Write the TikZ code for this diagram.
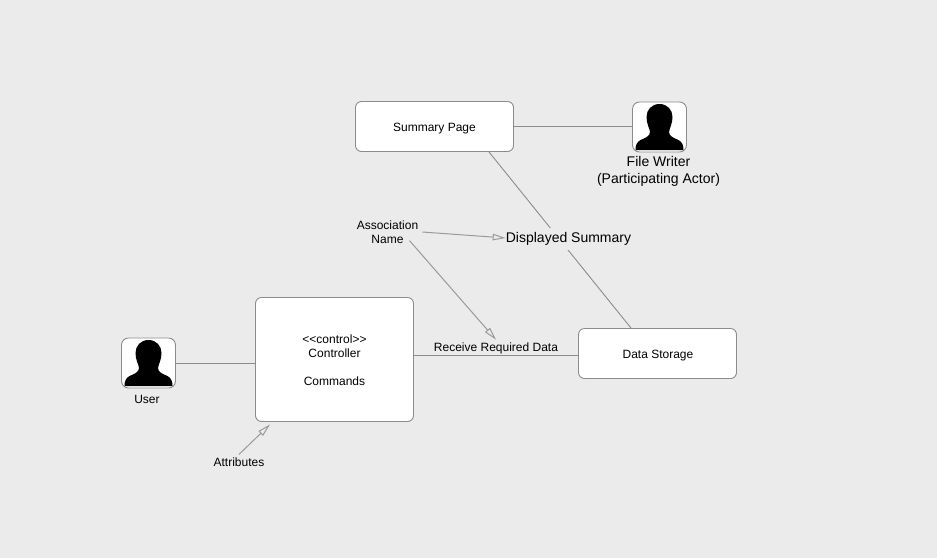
\documentclass[tikz,border=0pt]{standalone}
\usepackage{fontspec}
\setmainfont{Liberation Sans}
\usetikzlibrary{arrows.meta}
\definecolor{pagebg}{HTML}{EBEBEB}
\definecolor{edgegray}{HTML}{8C8C8C}
\definecolor{pointergray}{HTML}{9A9A9A}
\tikzset{
  classbox/.style={draw=edgegray,fill=white,rounded corners=6pt,line width=0.9pt,inner sep=0pt,minimum width=158pt},
  actorbox/.style={draw=edgegray,fill=white,rounded corners=7pt,line width=0.9pt,inner sep=0pt,minimum width=54pt,minimum height=50pt},
  assoc/.style={draw=edgegray,line width=0.9pt},
  pointer/.style={draw=pointergray,line width=1pt,-{Stealth[open,inset=0pt,length=13pt,width=6.5pt]}},
  smalltext/.style={inner sep=0pt,align=center,font=\fontsize{12}{14}\selectfont},
  bigtext/.style={inner sep=0pt,align=center,font=\fontsize{14}{17}\selectfont},
  silhouette/.pic={
    \fill[black] (0,-23) .. controls (8,-23) and (13,-17) .. (13,-10)
      .. controls (13,-3) and (10,1) .. (9.5,5)
      .. controls (9.5,9) and (14,11) .. (19,13)
      .. controls (23,15) and (24,19) .. (24,23) -- (-24,23)
      .. controls (-24,19) and (-23,15) .. (-19,13)
      .. controls (-14,11) and (-9.5,9) .. (-9.5,5)
      .. controls (-10,1) and (-13,-3) .. (-13,-10)
      .. controls (-13,-17) and (-8,-23) .. (0,-23) -- cycle;
  }
}
\begin{document}
\begin{tikzpicture}[x=1pt,y=-1pt]
  \fill[pagebg] (0,0) rectangle (937,558);
  \useasboundingbox (0,0) rectangle (937,558);

  \node[classbox,minimum height=50pt,label={[smalltext,yshift=-2pt]center:Summary Page}] (summary) at (434.5,126.5) {};
  \node[classbox,minimum height=50pt,label={[smalltext,xshift=0.5pt,yshift=-2pt]center:Data Storage}] (storage) at (657.5,353.5) {};
  \node[classbox,minimum height=124pt,label={[smalltext,yshift=-1pt]center:{<{}<control>{}>\\Controller\\[14pt]Commands}}] (controller) at (334.5,359.5) {};
  \node[actorbox] (writer) at (659.5,127) {};
  \node[actorbox] (user) at (148.5,363) {};
  \pic at (writer) {silhouette};
  \pic at (user) {silhouette};

  \node[bigtext] (writerlabel) at (658.5,171.5) {File Writer\\(Participating Actor)};
  \node[smalltext] (userlabel) at (147,399.5) {User};
  \node[smalltext] (attributes) at (239,462) {Attributes};
  \node[smalltext] (assocname) at (387.5,232) {Association\\Name};
  \node[smalltext] (receive) at (496,348.5) {Receive Required Data};

  \draw[assoc] (summary.east) -- (summary.east -| writer.west);
  \draw[assoc] (user.east) -- (user.east -| controller.west);
  \draw[assoc] (storage.west |- 0,355) -- (controller.east |- 0,355);
  \draw[assoc] ([xshift=54.5pt]summary.south) -- ([xshift=-26.5pt]storage.north);

  \node[bigtext,fill=pagebg,inner xsep=2pt,inner ysep=4pt] (displayed) at (568.5,239) {Displayed Summary};

  \draw[pointer] ([xshift=4pt]assocname.east) -- ([xshift=2pt,yshift=1pt]displayed.west);
  \draw[pointer] ([xshift=22pt,yshift=3pt]assocname.south) -- ([yshift=3pt]receive.north);
  \draw[pointer] ([yshift=3pt]attributes.north) -- ([xshift=15pt,yshift=-2.5pt]controller.south west);
\end{tikzpicture}
\end{document}
